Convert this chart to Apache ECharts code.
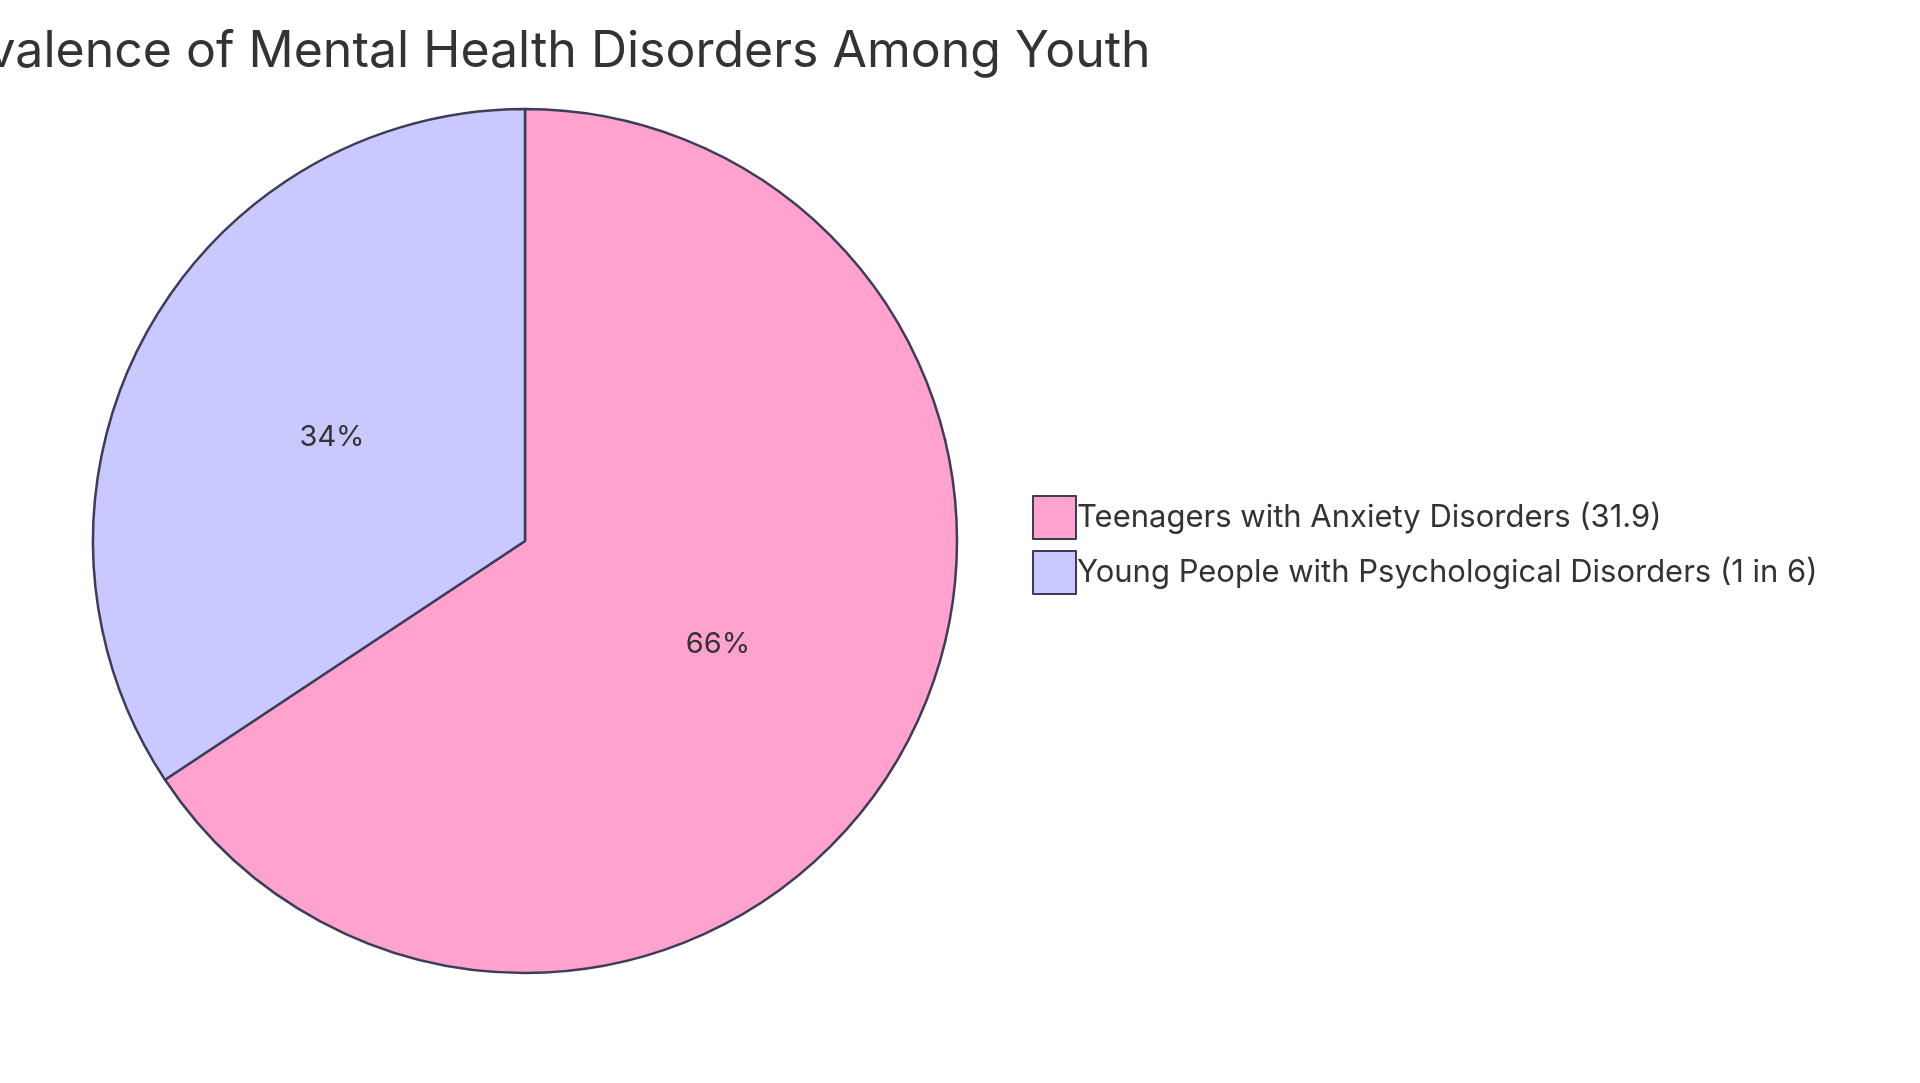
<!DOCTYPE html>
<html>
<head>
<meta charset="utf-8">
<script src="https://cdn.jsdelivr.net/npm/echarts@6/dist/echarts.min.js"></script>
<style>
  html, body { margin: 0; padding: 0; background: #fff; }
  #chart { width: 1920px; height: 1083px; }
</style>
</head>
<body>
<div id="chart"></div>
<script>
  // data
  var categories = ['Teenagers with Anxiety Disorders (31.9)', 'Young People with Psychological Disorders (1 in 6)'];
  var values = [31.9, 16.67];
  var colors = ['#FFA3CE', '#C9C9FF'];

  var myChart = echarts.init(document.getElementById('chart'));
  var pieData = categories.map(function (name, i) {
    return { name: name, value: values[i], itemStyle: { color: colors[i] } };
  });

  var option = {
    animation: false,
    textStyle: { fontFamily: 'Inter, sans-serif' },
    title: {
      text: 'Prevalence of Mental Health Disorders Among Youth',
      left: 525,
      top: 22,
      textAlign: 'center',
      textStyle: { fontSize: 50, fontWeight: 'normal', color: '#333', fontFamily: 'Inter, sans-serif' }
    },
    legend: {
      orient: 'vertical',
      left: 1027,
      top: 490,
      itemWidth: 43,
      itemHeight: 43,
      itemGap: 10,
      icon: 'rect',
      data: categories,
      textStyle: { fontSize: 31, color: '#333', padding: [0, 0, 0, -4] }
    },
    series: [{
      type: 'pie',
      center: [525, 541],
      radius: [0, 432],
      startAngle: 90,
      clockwise: true,
      data: pieData,
      itemStyle: { borderColor: '#3d3d5a', borderWidth: 2.5 },
      label: {
        position: 'inside',
        formatter: function (p) { return Math.round(p.percent) + '%'; },
        fontSize: 29,
        color: '#333'
      },
      labelLine: { show: false }
    }]
  };
  myChart.setOption(option);
</script>
</body>
</html>
